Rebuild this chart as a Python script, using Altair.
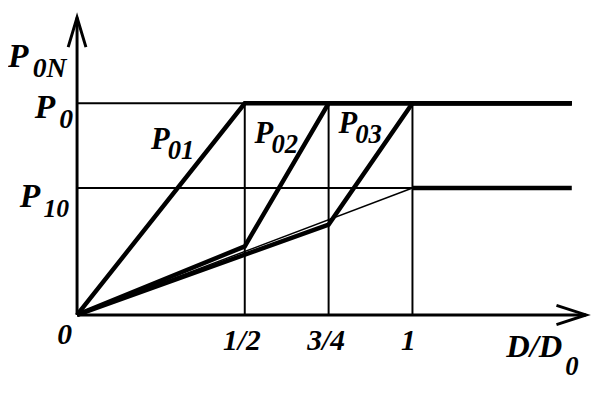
import altair as alt
import pandas as pd

# ---- values (P0 = 1) ----
P0 = 1.0
P10 = 0.6
X_END = 1.475
KNEE_02 = 0.324
KNEE_03 = 0.427
TICKS_X = [0.5, 0.75, 1.0]
TICK_LABELS = ["1/2", "3/4", "1"]

p01_x = [0, 0.5, X_END]
p01_y = [0, P0, P0]
p02_x = [0, 0.5, 0.75, X_END]
p02_y = [0, KNEE_02, P0, P0]
p03_x = [0, 0.75, 1.0, X_END]
p03_y = [0, KNEE_03, P0, P0]
p10_x = [1.0, X_END]
p10_y = [P10, P10]
ray_x = [0, 1.0]
ray_y = [0, P10]

X_AXIS_END = 1.5176
Y_AXIS_END = 1.4056

W, H = 584, 384
xs = alt.Scale(domain=[-0.19706, 1.52059], nice=False, zero=False)
ys = alt.Scale(domain=[-0.35198, 1.43823], nice=False, zero=False)

FONT = "Liberation Serif"


def series_df(name, xv, yv):
    return pd.DataFrame({"s": name, "o": list(range(len(xv))), "x": xv, "y": yv})


thick = pd.concat([
    series_df("P01", p01_x, p01_y),
    series_df("P02", p02_x, p02_y),
    series_df("P03", p03_x, p03_y),
    series_df("P10", p10_x, p10_y),
])
thin = series_df("ray", ray_x, ray_y)

grid_v = pd.DataFrame({"x": TICKS_X, "x2": TICKS_X, "y": [0] * 3, "y2": [P0] * 3})
grid_h = pd.DataFrame({"x": [0, 0], "x2": [0.5, 1.0], "y": [P0, P10], "y2": [P0, P10]})
axes_df = pd.DataFrame({"x": [0, 0], "x2": [X_AXIS_END, 0], "y": [0, 0], "y2": [0, Y_AXIS_END]})


def X(f):
    return alt.X(f, type="quantitative", scale=xs, axis=None)


def Y(f):
    return alt.Y(f, type="quantitative", scale=ys, axis=None)


def XD(v):
    return alt.XDatum(v, type="quantitative", scale=xs, axis=None)


def YD(v):
    return alt.YDatum(v, type="quantitative", scale=ys, axis=None)


thick_layer = alt.Chart(thick).mark_line(color="black", strokeWidth=4.5, strokeJoin="miter").encode(
    x=X("x"), y=Y("y"), detail="s:N", order="o:Q")
thin_layer = alt.Chart(thin).mark_line(color="black", strokeWidth=1.5).encode(
    x=X("x"), y=Y("y"), detail="s:N", order="o:Q")
gv = alt.Chart(grid_v).mark_rule(color="black", strokeWidth=2).encode(
    x=X("x"), x2="x2", y=Y("y"), y2="y2")
gh = alt.Chart(grid_h).mark_rule(color="black", strokeWidth=2).encode(
    x=X("x"), x2="x2", y=Y("y"), y2="y2")
ax = alt.Chart(axes_df).mark_rule(color="black", strokeWidth=3).encode(
    x=X("x"), x2="x2", y=Y("y"), y2="y2")

arrow_y = alt.Chart().mark_point(shape="M-0.6,1 L0,-1 L0.6,1", size=900, filled=False, color="black",
                                 strokeWidth=3, opacity=1, yOffset=15, strokeJoin="miter").encode(
    x=XD(0), y=YD(Y_AXIS_END))
arrow_x = alt.Chart().mark_point(shape="M-0.65,1 L0,-1 L0.65,1", size=900, filled=False, color="black",
                                 strokeWidth=3, opacity=1, angle=90, xOffset=-15, strokeJoin="miter").encode(
    x=XD(X_AXIS_END), y=YD(0))


def txt(t, x, y, dx, dy, size, align="left"):
    return alt.Chart().mark_text(text=t, font=FONT, fontStyle="italic", fontWeight="bold",
                                 fontSize=size, align=align, baseline="alphabetic",
                                 dx=dx, dy=dy, color="black").encode(x=XD(x), y=YD(y))


def plabel(main, sub, x, y, dx, dy, sdx, sdy, size, ssize):
    return [txt(main, x, y, dx, dy, size), txt(sub, x, y, sdx, sdy, ssize)]


texts = []
texts += plabel("P", "0N", 0, P0, -70, -37, -45, -27, 34, 28)
texts += plabel("P", "0", 0, P0, -43, 15, -18, 25, 34, 28)
texts += plabel("P", "10", 0, P10, -58, 19, -34, 29, 34, 26)
texts += plabel("P", "01", 0.5, P0, -95, 46, -78, 56, 31, 27)
texts += plabel("P", "02", 0.75, P0, -75, 40, -58, 50, 31, 27)
texts += plabel("P", "03", 1.0, P0, -75, 30, -58, 40, 31, 27)
texts += plabel("D/D", "0", 1.0, 0, 95, 42.5, 155, 60.5, 33, 27)
texts.append(txt("0", 0, 0, -20, 29, 30))
for tx, tl, d in zip(TICKS_X, TICK_LABELS, [-3, -2.5, -4]):
    texts.append(txt(tl, tx, 0, d, 35.5, 30, align="center"))

chart = alt.layer(gv, gh, thin_layer, thick_layer, ax, arrow_y, arrow_x, *texts).properties(
    width=W, height=H, padding=0, background="white"
).configure_view(stroke=None)

chart.save("out.html", embed_options={"renderer": "svg", "actions": False})
